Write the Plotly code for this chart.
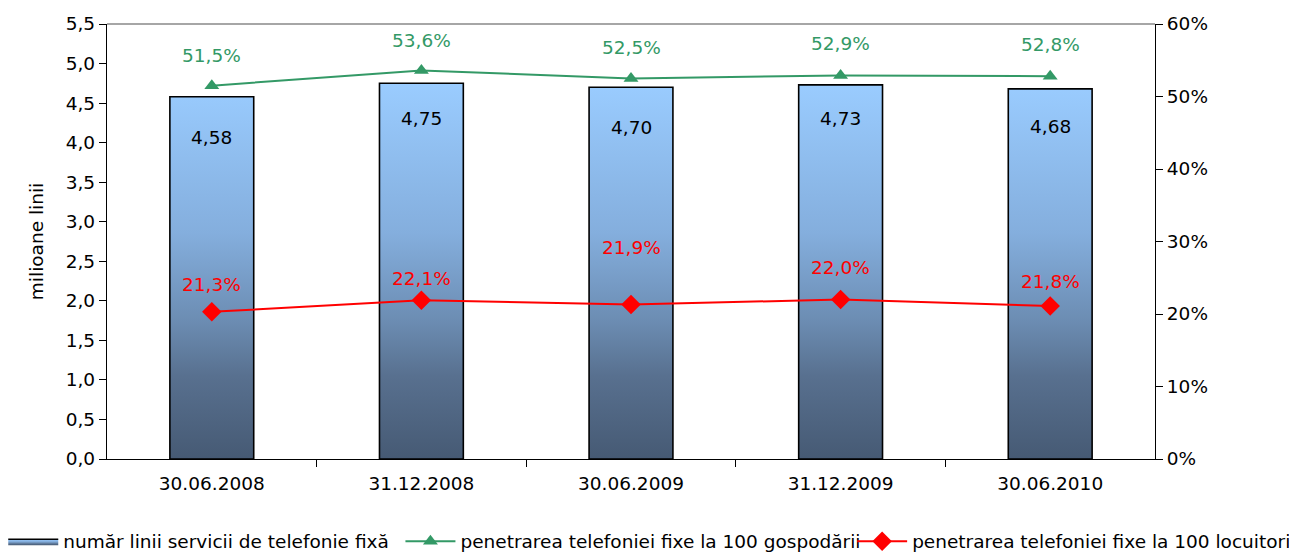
import plotly.graph_objects as go

categories = ["30.06.2008", "31.12.2008", "30.06.2009", "31.12.2009", "30.06.2010"]
lines_millions = [4.58, 4.75, 4.70, 4.73, 4.68]
households_pct = [51.5, 53.6, 52.5, 52.9, 52.8]
inhabitants_pct_plotted = [20.3, 21.9, 21.3, 22.0, 21.1]
inhabitants_labels = ["21,3%", "22,1%", "21,9%", "22,0%", "21,8%"]
pct_ticks = [0, 10, 20, 30, 40, 50, 60]

name_bars = "număr linii servicii de telefonie fixă"
name_green = "penetrarea telefoniei fixe la 100 gospodării"
name_red = "penetrarea telefoniei fixe la 100 locuitori"

FONT = "DejaVu Sans"
FS = 18.5
GREEN = "#339966"
RED = "#FF0000"
half_w = 0.2
bar_label_shift = [-41, -35, -40, -34, -38]
green_label_shift = [30, 30, 31, 32, 32]
red_label_shift = [27, 22, 57, 32, 25]

xs, ys = [], []
for i, v in enumerate(lines_millions):
    xs += [i - half_w, i - half_w, i + half_w, i + half_w, i - half_w, None]
    ys += [0, v, v, 0, 0, None]

fig = go.Figure()
fig.add_trace(go.Scatter(
    x=xs, y=ys, mode="lines", fill="toself", name=name_bars, legend="legend",
    line=dict(color="black", width=1.6),
    fillgradient=dict(type="vertical", start=0, stop=max(lines_millions),
                      colorscale=[[0, "#465A74"], [0.22, "#58708F"], [0.37, "#6C8DB3"],
                                  [0.6, "#84AEDD"], [1, "#9ACCFF"]]),
    hoverinfo="skip",
))
idx = list(range(len(categories)))
fig.add_trace(go.Scatter(
    x=idx, y=households_pct, yaxis="y2", mode="lines+markers", name=name_green,
    legend="legend2",
    line=dict(color=GREEN, width=2),
    marker=dict(symbol="triangle-up", size=13, color=GREEN),
))
fig.add_trace(go.Scatter(
    x=idx, y=inhabitants_pct_plotted, yaxis="y2", mode="lines+markers", name=name_red,
    legend="legend3",
    line=dict(color=RED, width=2),
    marker=dict(symbol="diamond", size=15, color=RED),
))

ann = []
for i, v in enumerate(lines_millions):
    ann.append(dict(x=i, y=v, xref="x", yref="y", text=f"{v:.2f}".replace(".", ","),
                    showarrow=False, yanchor="middle", yshift=bar_label_shift[i],
                    font=dict(family=FONT, size=FS, color="black")))
for i, v in enumerate(households_pct):
    ann.append(dict(x=i, y=v, xref="x", yref="y2", text=f"{v:.1f}%".replace(".", ","),
                    showarrow=False, yanchor="middle", yshift=green_label_shift[i],
                    font=dict(family=FONT, size=FS, color=GREEN)))
for i, v in enumerate(inhabitants_pct_plotted):
    ann.append(dict(x=i, y=v, xref="x", yref="y2", text=inhabitants_labels[i],
                    showarrow=False, yanchor="middle", yshift=red_label_shift[i],
                    font=dict(family=FONT, size=FS, color=RED)))

leg_common = dict(orientation="h", xanchor="left", y=-0.19, yanchor="middle",
                  font=dict(family=FONT, size=FS, color="black"), itemwidth=50,
                  bgcolor="rgba(0,0,0,0)")

fig.update_layout(
    template="none",
    width=1289, height=544,
    margin=dict(l=99, r=142, t=16, b=93, autoexpand=False),
    paper_bgcolor="white", plot_bgcolor="white",
    separators=",.",
    font=dict(family=FONT, size=FS, color="black"),
    showlegend=True,
    legend=dict(x=-0.099, **leg_common),
    legend2=dict(x=0.280, **leg_common),
    legend3=dict(x=0.711, **leg_common),
    annotations=ann,
    xaxis=dict(range=[-0.5, len(categories) - 0.5], tickvals=idx, ticktext=categories,
               showgrid=False, zeroline=False, showline=True, linecolor="black", linewidth=1.3,
               ticks="outside", ticklen=8, tickcolor="rgba(0,0,0,0)", automargin=False,
               minor=dict(tickvals=[i + 0.5 for i in idx[:-1]], ticks="outside", ticklen=7,
                          tickcolor="black", tickwidth=1, showgrid=False),
               tickfont=dict(family=FONT, size=FS, color="black")),
    yaxis=dict(range=[0, 5.5], dtick=0.5, tick0=0, tickformat=".1f",
               showgrid=False, zeroline=False, showline=True, linecolor="black", linewidth=1.3,
               ticks="outside", ticklen=7, tickcolor="black", automargin=False,
               title=dict(text="milioane linii", standoff=17,
                          font=dict(family=FONT, size=FS, color="black")),
               tickfont=dict(family=FONT, size=FS, color="black")),
    yaxis2=dict(range=[0, 60], tickvals=pct_ticks, ticktext=[f"{v}%" for v in pct_ticks],
                overlaying="y", side="right", anchor="x",
                showgrid=False, zeroline=False, showline=True, linecolor="black", linewidth=1.3,
                ticks="outside", ticklen=7, tickcolor="black", automargin=False,
                tickfont=dict(family=FONT, size=FS, color="black")),
    shapes=[dict(type="line", xref="paper", yref="paper", x0=0, x1=1, y0=1, y1=1,
                 line=dict(color="#888888", width=1.5))],
)

fig.write_html("out.html")
